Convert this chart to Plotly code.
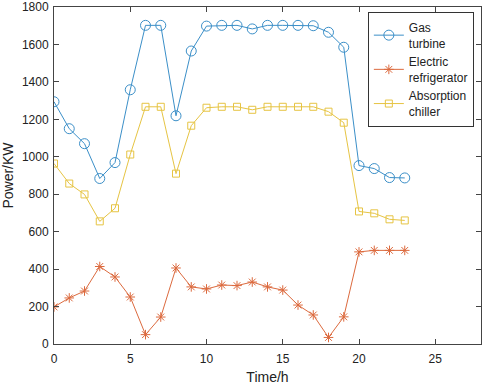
import plotly.graph_objects as go

hours = list(range(24))
gas_turbine = [1294, 1150, 1070, 884, 969, 1358, 1702, 1702, 1219, 1565, 1698, 1702, 1702, 1683,
               1702, 1702, 1702, 1700, 1665, 1585, 953, 937, 889, 887]
electric_refrigerator = [198, 246, 283, 414, 358, 251, 50, 144, 406, 305, 294, 315, 312, 331,
                         305, 288, 208, 155, 35, 145, 492, 500, 500, 500]
absorption_chiller = [964, 857, 799, 655, 725, 1012, 1267, 1267, 910, 1166, 1262, 1267, 1267, 1251,
                      1267, 1267, 1267, 1267, 1241, 1182, 708, 698, 666, 660]
x_ticks = [0, 5, 10, 15, 20, 25]
y_ticks = list(range(0, 1801, 200))

blue = "#3b8fc8"
orange = "#dc6a3e"
yellow = "#e6c443"

fig = go.Figure()
fig.add_trace(go.Scatter(x=hours, y=gas_turbine, mode="lines+markers", name="Gas<br>turbine",
                         line=dict(color=blue, width=1),
                         marker=dict(symbol="circle-open", size=10, color=blue, line=dict(width=1, color=blue))))
fig.add_trace(go.Scatter(x=hours, y=electric_refrigerator, mode="lines+markers", name="Electric<br>refrigerator",
                         line=dict(color=orange, width=1),
                         marker=dict(symbol="asterisk-open", size=8, color=orange, line=dict(width=1, color=orange))))
fig.add_trace(go.Scatter(x=hours, y=absorption_chiller, mode="lines+markers", name="Absorption<br>chiller",
                         line=dict(color=yellow, width=1),
                         marker=dict(symbol="square-open", size=7, color=yellow, line=dict(width=1, color=yellow))))

axis_common = dict(showgrid=False, zeroline=False, showline=True, linecolor="#444", linewidth=1,
                   mirror="ticks", ticks="inside", ticklen=5, tickcolor="#444", automargin=False,
                   ticklabeloverflow="allow",
                   tickfont=dict(family="Liberation Sans, Arial", size=12, color="#222"))
fig.update_xaxes(range=[0, 28], tickvals=x_ticks, ticklabelstandoff=4,
                 title=dict(text="Time/h", standoff=6,
                            font=dict(family="Liberation Sans, Arial", size=14, color="#222")), **axis_common)
fig.update_yaxes(range=[0, 1800.01], tickvals=y_ticks, ticklabelstandoff=2,
                 title=dict(text="Power/KW", standoff=8,
                            font=dict(family="Liberation Sans, Arial", size=14, color="#222")), **axis_common)

fig.update_layout(
    width=484, height=390,
    margin=dict(l=54, r=3, t=7, b=46),
    plot_bgcolor="white", paper_bgcolor="white",
    font=dict(family="Liberation Sans, Arial", size=12, color="#222"),
    legend=dict(x=0.735, y=0.985, xanchor="left", yanchor="top", bgcolor="white",
                bordercolor="#333", borderwidth=1, font=dict(size=12), tracegroupgap=0),
)
fig.write_html("out.html", config={"displayModeBar": False},
               post_script="document.body.style.margin='0';")
